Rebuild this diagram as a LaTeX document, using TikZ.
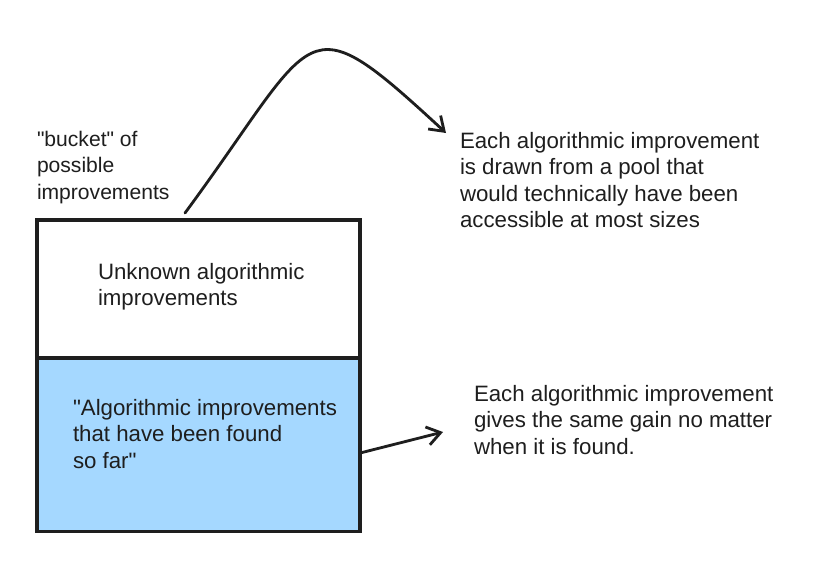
\documentclass[tikz,border=0pt]{standalone}
\usepackage{fontspec}
\setmainfont{Liberation Sans}
\usepackage{tikz}
\usetikzlibrary{arrows.meta}
\definecolor{sketchink}{RGB}{30,30,30}
\definecolor{sketchblue}{RGB}{165,216,255}

\begin{document}
\begin{tikzpicture}[x=0.03cm, y=-0.03cm,
    bucketbox/.style={rectangle, draw=sketchink, line width=2.6pt, inner sep=0pt, outer sep=0pt,
                      minimum width=9.69cm, anchor=north west},
    note/.style={anchor=north west, align=left, inner sep=0pt, outer sep=0pt, text=sketchink,
                 font=\fontsize{19}{22.6}\selectfont},
    connector/.style={line width=2.4pt, draw=sketchink, line cap=round,
                      -{Straight Barb[length=4mm, width=5.5mm, line width=2.4pt]}}
]
    \useasboundingbox (0,0) rectangle (836,576);

    % Bucket
    \node[bucketbox, minimum height=4.14cm] (unknown) at (37,220) {};
    \node[bucketbox, minimum height=5.19cm, fill=sketchblue] (found) at (unknown.south west) {};

    % Texts
    \node[note, font=\fontsize{18}{22.6}\selectfont] (bucket) at (37,131) {\textquotedbl bucket\textquotedbl{} of\\possible\\improvements};
    \node[note] (unknowntext) at (98,263) {Unknown algorithmic\\improvements};
    \node[note] (foundtext) at (73,399) {\textquotedbl Algorithmic improvements\\that have been found\\so far\textquotedbl};
    \node[note] (pool) at (460,132) {Each algorithmic improvement\\is drawn from a pool that\\would technically have been\\accessible at most sizes};
    \node[note] (gain) at (474,385) {Each algorithmic improvement\\gives the same gain no matter\\when it is found.};

    % Connections
    \draw[connector] ([shift={(148,-7)}]unknown.north west) .. controls (320,30) and (300,-2) .. ([shift={(-14,1)}]pool.north west);
    \draw[connector] ([shift={(2,8)}]found.east) -- ([shift={(-31,47)}]gain.north west);
\end{tikzpicture}
\end{document}
